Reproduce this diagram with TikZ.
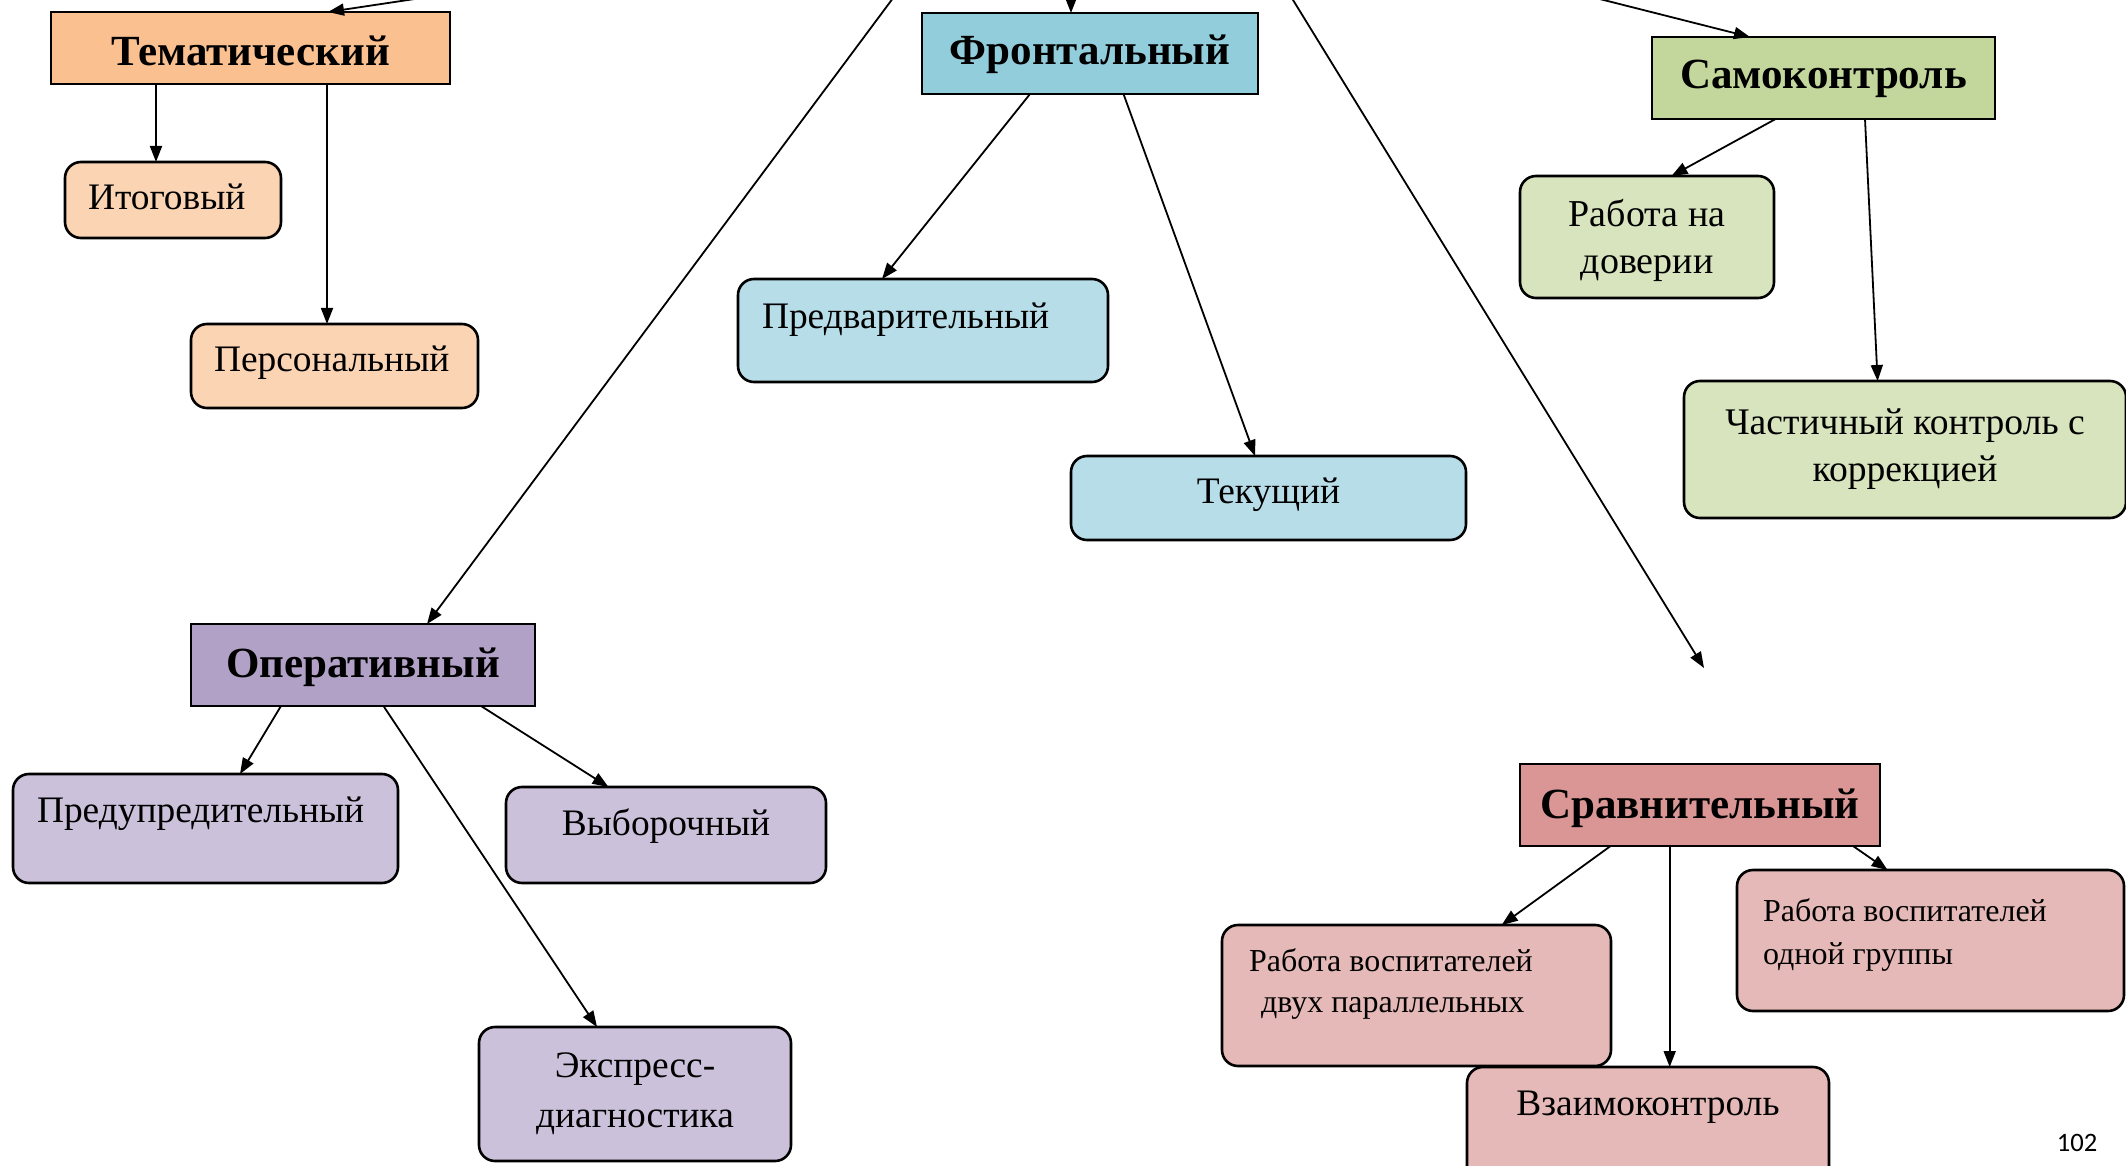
\documentclass[tikz,border=0pt]{standalone}
\usepackage{fontspec}
\setmainfont{Liberation Serif}
\newfontfamily\numfont{Carlito}
\usetikzlibrary{arrows.meta,calc}
\newdimen\upx \upx=0.5pt
% width, height, baseline from top, alignment, text (all in px)
\newcommand\bx[5]{\parbox[c][#2\upx][t]{#1\upx}{#4\rule{0pt}{#3\upx}#5}}
\definecolor{temH}{HTML}{FAC090}
\definecolor{temS}{HTML}{FBD4B4}
\definecolor{froH}{HTML}{92CDDC}
\definecolor{froS}{HTML}{B7DDE8}
\definecolor{samH}{HTML}{C3D69B}
\definecolor{samS}{HTML}{D7E4BD}
\definecolor{opeH}{HTML}{B2A1C7}
\definecolor{opeS}{HTML}{CCC1DA}
\definecolor{sraH}{HTML}{D99694}
\definecolor{sraS}{HTML}{E5B9B7}
\begin{document}
\begin{tikzpicture}[x=0.5pt,y=-0.5pt,
  hdr/.style={draw=black, line width=1.1pt, inner sep=0pt, outer sep=0pt, anchor=north west,
    font=\bfseries\fontsize{21.5pt}{26pt}\selectfont},
  sub/.style={draw=black, line width=1.3pt, rounded corners=8pt, inner sep=0pt, outer sep=0pt,
    anchor=north west, font=\fontsize{18.7pt}{22pt}\selectfont},
  con/.style={-{Triangle[length=8pt,width=6pt]}, line width=0.9pt}]
\useasboundingbox (0,0) rectangle (2126,1166);
\fill[white] (0,0) rectangle (2126,1166);
\clip (0,0) rectangle (2126,1166);

% Тематический
\node[hdr, fill=temH] (tem) at (51,12) {\bx{399}{72}{54}{\centering}{Тематический}};
\node[sub, fill=temS] (itog) at (65,162) {\bx{216}{76}{48}{\raggedright\leftskip=11.5pt}{Итоговый}};
\node[sub, fill=temS] (pers) at (191,324) {\bx{287}{84}{47}{\raggedright\leftskip=11.5pt}{Персональный}};

% Фронтальный
\node[hdr, fill=froH] (fron) at (922,13) {\bx{336}{81}{52}{\centering}{Фронтальный}};
\node[sub, fill=froS] (pred) at (738,279) {\bx{370}{103}{49}{\raggedright\leftskip=12pt}{Предварительный}};
\node[sub, fill=froS] (tek) at (1071,456) {\bx{395}{84}{47}{\centering}{Текущий}};

% Самоконтроль
\node[hdr, fill=samH] (samo) at (1652,37) {\bx{343}{82}{52}{\centering}{Самоконтроль}};
\node[sub, fill=samS] (dov) at (1520,176) {\bx{254}{122}{50}{\centering\fontsize{19pt}{24pt}\selectfont}{Работа на\\доверии}};
\node[sub, fill=samS] (chast) at (1684,381) {\bx{442}{137}{53}{\centering\fontsize{18.8pt}{23.7pt}\selectfont}{Частичный контроль с\\коррекцией}};

% Оперативный
\node[hdr, fill=opeH] (oper) at (191,624) {\bx{344}{82}{53}{\centering}{Оперативный}};
\node[sub, fill=opeS] (pred2) at (13,774) {\bx{385}{109}{48}{\raggedright\leftskip=12pt}{Предупредительный}};
\node[sub, fill=opeS] (vyb) at (506,787) {\bx{320}{96}{48}{\centering}{Выборочный}};
\node[sub, fill=opeS] (eksp) at (479,1027) {\bx{312}{134}{50}{\centering\fontsize{18.7pt}{25pt}\selectfont}{Экспресс-\hspace*{4pt}\\диагностика}};

% Сравнительный
\node[hdr, fill=sraH] (srav) at (1520,764) {\bx{360}{82}{54}{\centering}{Сравнительный}};
\node[sub, fill=sraS] (dvuh) at (1222,925) {\bx{389}{141}{46}{\raggedright\leftskip=13.5pt\fontsize{16pt}{20.5pt}\selectfont}{Работа воспитателей\\\hspace*{6pt}двух параллельных}};
\node[sub, fill=sraS] (odnoj) at (1737,870) {\bx{387}{141}{51}{\raggedright\leftskip=13pt\fontsize{16pt}{21.5pt}\selectfont}{Работа воспитателей\\одной группы}};
\node[sub, fill=sraS] (vzaim) at (1467,1067) {\bx{362}{124}{48}{\centering}{Взаимоконтроль}};

% page number
\node[font=\numfont\fontsize{13.3pt}{15pt}\selectfont, anchor=base, inner sep=0pt] (pg) at (2077,1151) {102};

% incoming connectors from outside
\coordinate (tin) at (488,-12);
\coordinate (fin) at (1071,-30);
\coordinate (sin) at (1572,-8);
\coordinate (oin) at (906.5,-20);
\coordinate (rin) at (1280.7,-20);
\coordinate (rend) at (1704,668);
\draw[con] (tin) -- ($(tem.north west)+(277,0)$);
\draw[con] (fin) -- ($(fron.north west)+(149,0)$);
\draw[con] (sin) -- ($(samo.north west)+(98,0)$);
\draw[con] (oin) -- ($(oper.north west)+(236,0)$);
\draw[con] (rin) -- (rend);

% tree connectors
\draw[con] ($(tem.south west)+(105,0)$) -- ($(itog.north west)+(91,0)$);
\draw[con] ($(tem.south west)+(276,0)$) -- ($(pers.north west)+(136,0)$);
\draw[con] ($(fron.south west)+(108,0)$) -- ($(pred.north west)+(144,0)$);
\draw[con] ($(fron.south west)+(201.5,0)$) -- ($(tek.north west)+(184,0)$);
\draw[con] ($(samo.south west)+(123.6,0)$) -- ($(dov.north west)+(151.5,0)$);
\draw[con] ($(samo.south west)+(213,0)$) -- ($(chast.north west)+(193.6,0)$);
\draw[con] ($(oper.south west)+(90,0)$) -- ($(pred2.north west)+(227,0)$);
\draw[con] ($(oper.south west)+(192.5,0)$) -- ($(eksp.north west)+(118,0)$);
\draw[con] ($(oper.south west)+(290,0)$) -- ($(vyb.north west)+(102.5,0)$);
\draw[con] ($(srav.south west)+(90.6,0)$) -- ($(dvuh.north west)+(279.7,0)$);
\draw[con] ($(srav.south west)+(149.7,0)$) -- ($(vzaim.north west)+(202.7,0)$);
\draw[con] ($(srav.south west)+(333,0)$) -- ($(odnoj.north west)+(150.6,0)$);
\end{tikzpicture}
\end{document}
